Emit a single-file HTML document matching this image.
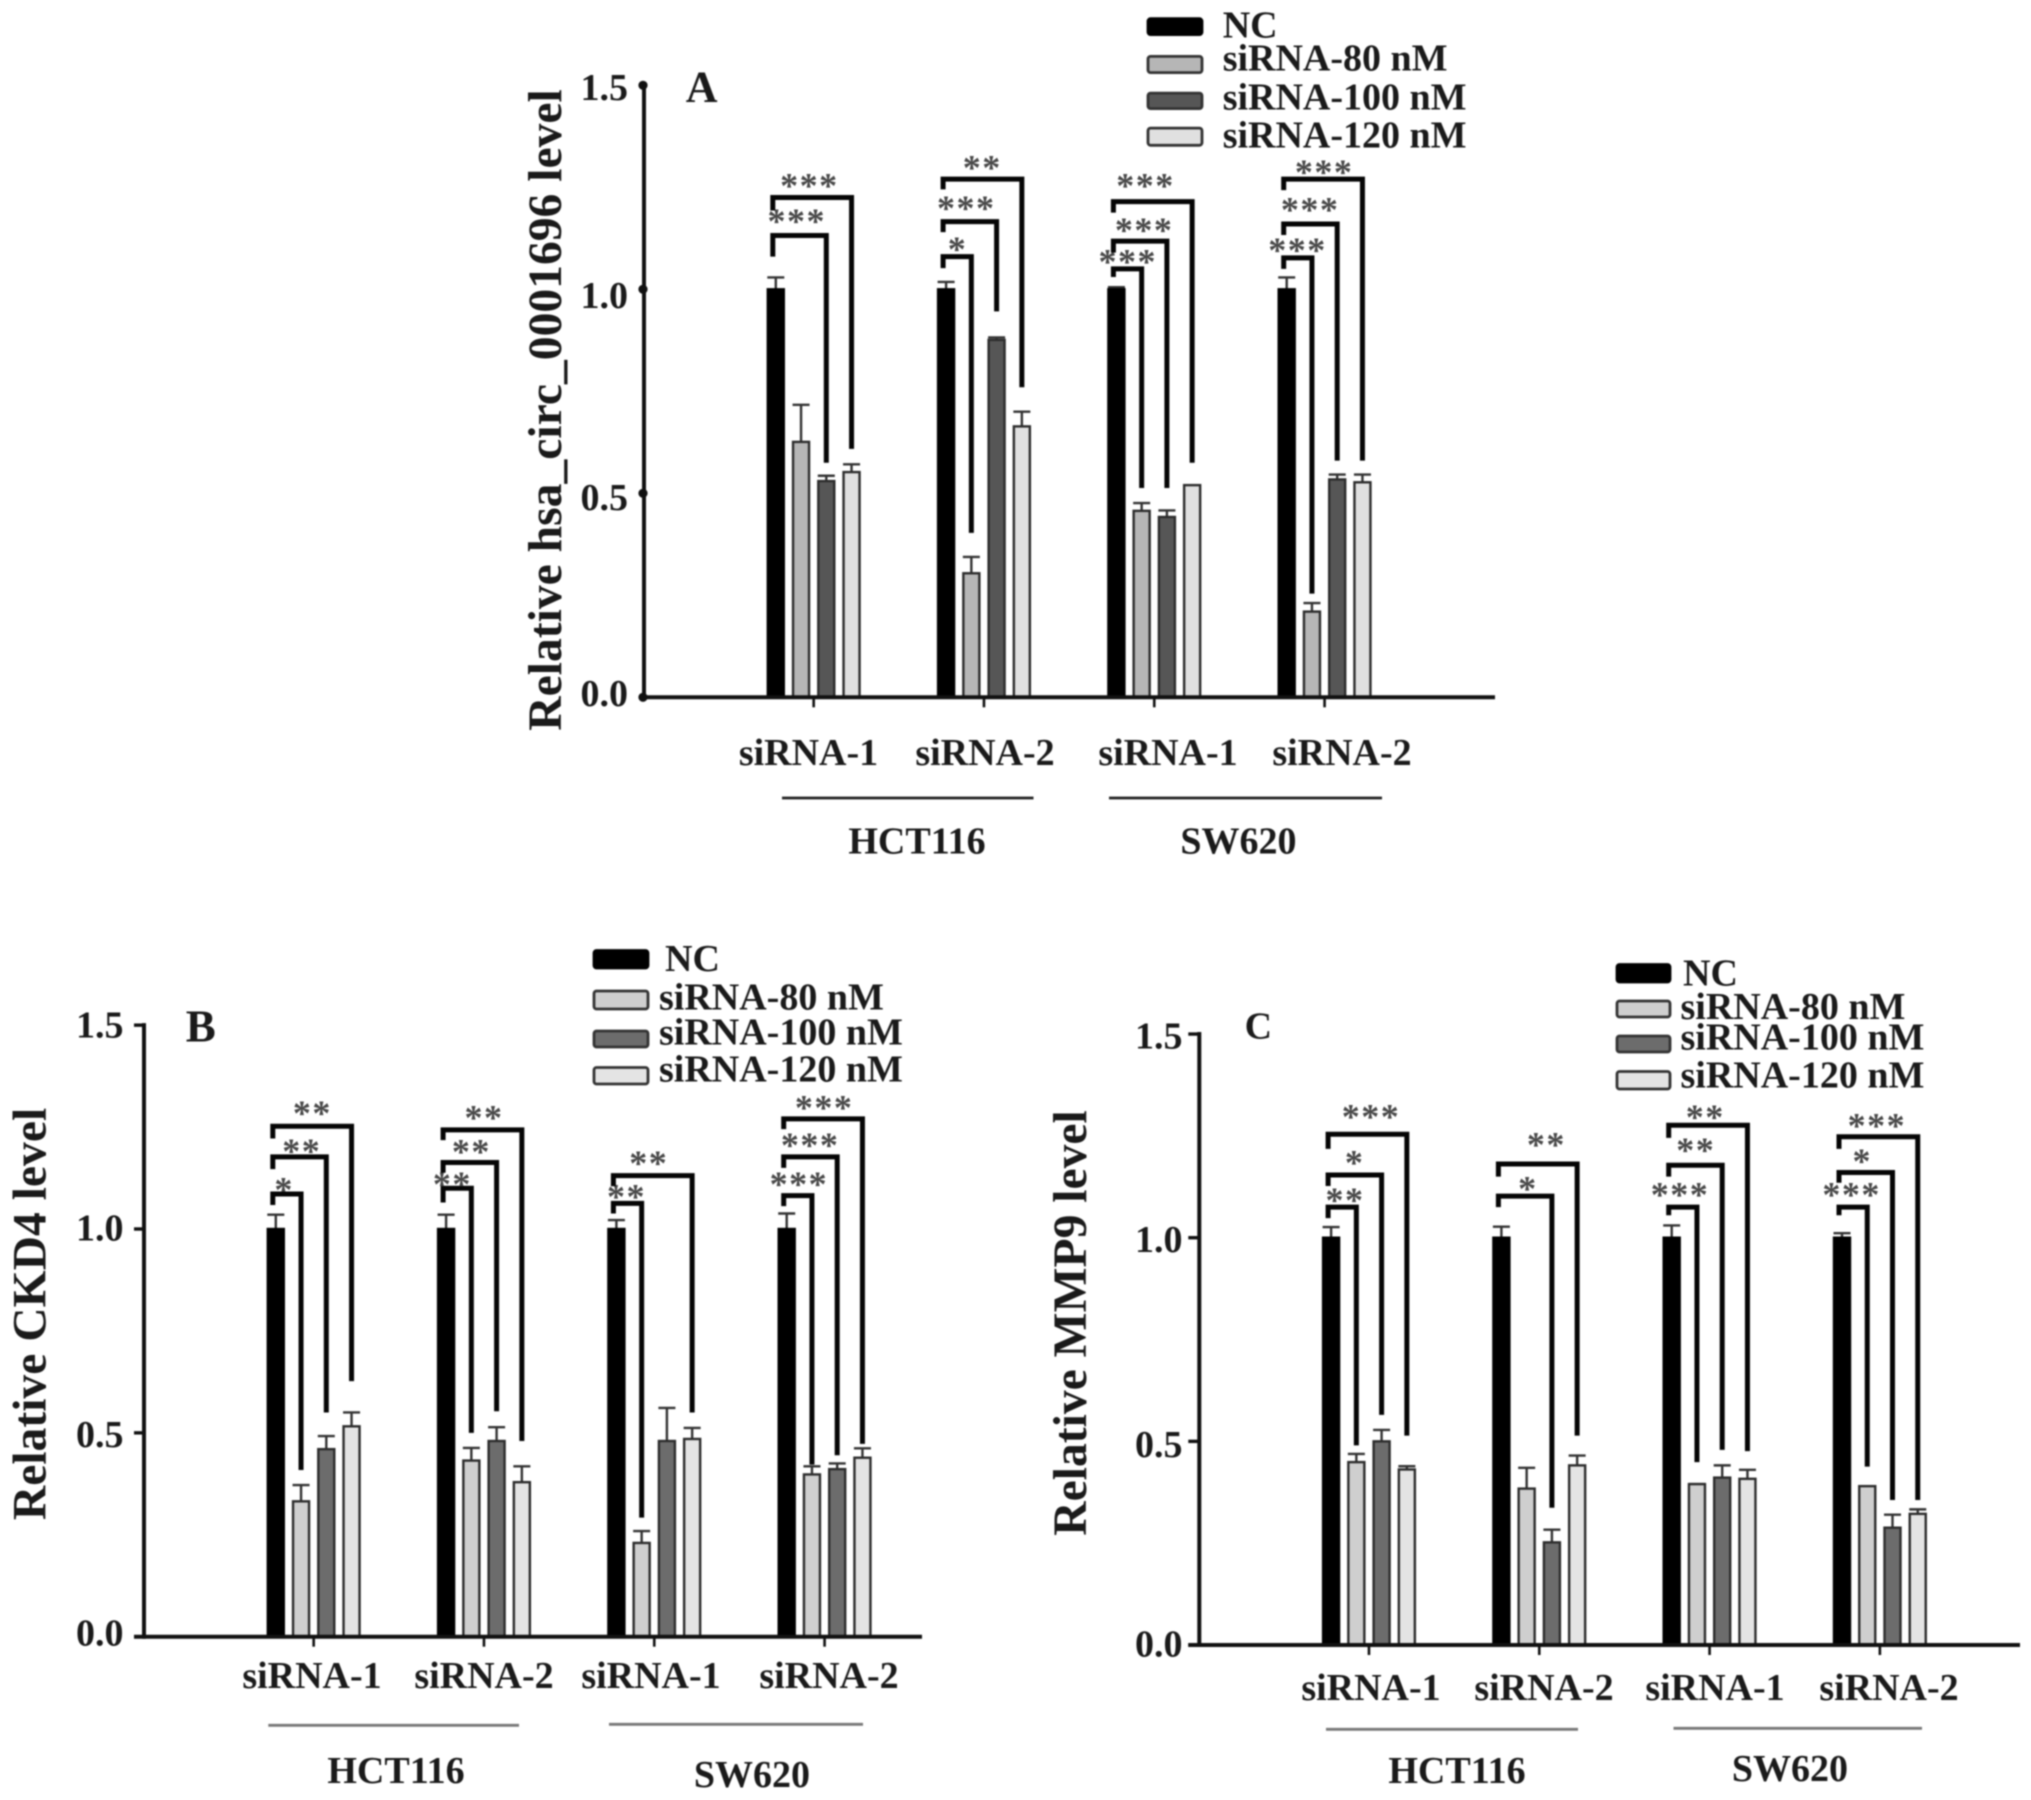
<!DOCTYPE html>
<html lang="en">
<head>
<meta charset="utf-8">
<title>Relative expression levels after siRNA knockdown</title>
<style>
html,body{margin:0;padding:0;background:#fff;width:2031px;height:1800px;overflow:hidden}
#figure{display:block;filter:blur(0.7px)}
text{font-family:"Liberation Serif",serif;font-weight:700;fill:#1a1a1a}
</style>
</head>
<body>
<svg id="figure" xmlns="http://www.w3.org/2000/svg" width="2031" height="1800" viewBox="0 0 2031 1800"></svg>
<script>
// ---- shared chart data ----
const siRnaLabels = ['siRNA-1', 'siRNA-2', 'siRNA-1', 'siRNA-2'];
const cellLineLabels = ['HCT116', 'SW620'];
const seriesNames = ['NC', 'siRNA-80 nM', 'siRNA-100 nM', 'siRNA-120 nM'];
const tickValues = [0, 0.5, 1, 1.5];
const tickLabels = ['0.0', '0.5', '1.0', '1.5'];

// ---- panel A ----
const meansA = [
  [1.0, 0.626, 0.53, 0.552],
  [1.0, 0.304, 0.876, 0.664],
  [1.0, 0.457, 0.442, 0.52],
  [1.0, 0.21, 0.534, 0.527]
];
const errorTopsA = [
  [1.029, 0.717, 0.543, 0.571],
  [1.018, 0.344, 0.882, 0.70],
  [1.005, 0.476, 0.458, 0.52],
  [1.029, 0.231, 0.546, 0.546]
];
// group, target bar, top value, left end value, right end value, stars, star position (bar units), star value
const bracketsA = [
  [0, 2, 1.132, 1.08, 0.575, '***', 0.83, 1.18],
  [0, 3, 1.225, 1.193, 0.609, '***', 1.33, 1.267],
  [1, 1, 1.08, 1.052, 0.403, '*', 0.45, 1.111],
  [1, 2, 1.166, 1.14, 0.946, '***', 0.8, 1.211],
  [1, 3, 1.27, 1.245, 0.76, '**', 1.43, 1.311],
  [2, 1, 1.05, 1.03, 0.513, '***', 0.45, 1.08],
  [2, 2, 1.118, 1.09, 0.513, '***', 1.1, 1.157],
  [2, 3, 1.215, 1.188, 0.575, '***', 1.15, 1.267],
  [3, 1, 1.077, 1.05, 0.254, '***', 0.43, 1.108],
  [3, 2, 1.16, 1.133, 0.58, '***', 0.93, 1.208],
  [3, 3, 1.27, 1.243, 0.58, '***', 1.48, 1.3]
];

// ---- panel B ----
const meansB = [
  [1.0, 0.332, 0.46, 0.516],
  [1.0, 0.432, 0.48, 0.379],
  [1.0, 0.23, 0.48, 0.485],
  [1.0, 0.398, 0.411, 0.439]
];
const errorTopsB = [
  [1.035, 0.372, 0.492, 0.55],
  [1.035, 0.463, 0.514, 0.418],
  [1.022, 0.259, 0.561, 0.512],
  [1.038, 0.418, 0.425, 0.462]
];
const bracketsB = [
  [0, 1, 1.086, 1.059, 0.409, '*', 0.33, 1.109],
  [0, 2, 1.177, 1.147, 0.55, '**', 1.03, 1.204],
  [0, 3, 1.252, 1.222, 0.627, '**', 1.45, 1.297],
  [1, 1, 1.1, 1.065, 0.5, '**', 0.25, 1.123],
  [1, 2, 1.163, 1.138, 0.553, '**', 1, 1.202],
  [1, 3, 1.243, 1.218, 0.48, '**', 1.5, 1.286],
  [2, 1, 1.063, 1.038, 0.292, '**', 0.4, 1.092],
  [2, 3, 1.131, 1.105, 0.55, '**', 1.28, 1.174],
  [3, 1, 1.082, 1.056, 0.422, '***', 0.48, 1.123],
  [3, 2, 1.177, 1.15, 0.445, '***', 0.93, 1.218],
  [3, 3, 1.27, 1.245, 0.473, '***', 1.48, 1.31]
];

// ---- panel C ----
const meansC = [
  [1.0, 0.449, 0.5, 0.431],
  [1.0, 0.384, 0.252, 0.441],
  [1.0, 0.395, 0.411, 0.408],
  [1.0, 0.39, 0.288, 0.322]
];
const errorTopsC = [
  [1.026, 0.469, 0.528, 0.439],
  [1.027, 0.435, 0.283, 0.465],
  [1.03, 0.395, 0.441, 0.43],
  [1.011, 0.39, 0.32, 0.333]
];
const bracketsC = [
  [0, 1, 1.075, 1.048, 0.49, '**', 0.55, 1.105],
  [0, 2, 1.154, 1.127, 0.565, '*', 0.93, 1.197],
  [0, 3, 1.254, 1.218, 0.514, '***', 1.58, 1.31],
  [1, 2, 1.102, 1.075, 0.337, '*', 1.05, 1.133],
  [1, 3, 1.181, 1.15, 0.514, '**', 1.78, 1.241],
  [2, 1, 1.075, 1.055, 0.449, '***', 0.33, 1.118],
  [2, 2, 1.178, 1.15, 0.479, '**', 0.95, 1.227],
  [2, 3, 1.276, 1.245, 0.476, '**', 1.33, 1.309],
  [3, 1, 1.075, 1.055, 0.438, '***', 0.38, 1.118],
  [3, 2, 1.16, 1.135, 0.356, '*', 0.8, 1.2],
  [3, 3, 1.248, 1.218, 0.356, '***', 1.38, 1.288]
];

const NS = 'http://www.w3.org/2000/svg';
const root = document.getElementById('figure');
const BAR_W = 16;
const BAR_STEP = 25.25;
const GROUP_STEP = 170.3;

function make(parent, tag, attrs, content) {
  const el = document.createElementNS(NS, tag);
  for (const k in attrs) el.setAttribute(k, attrs[k]);
  if (content !== undefined) el.textContent = content;
  parent.appendChild(el);
  return el;
}

function drawPanel(p) {
  const y = v => p.y0 - v * p.unit;
  const barLeft = (g, i) => p.axisX + 123.8 + g * GROUP_STEP + i * BAR_STEP;
  const barCenter = (g, i) => barLeft(g, i) + BAR_W / 2;

  const panel = make(root, 'g', {});
  
  

  // bars and error bars
  p.means.forEach((row, g) => {
    row.forEach((v, i) => {
      const cx = barCenter(g, i);
      const top = y(p.errors[g][i]);
      const err = make(panel, 'path', {
        d: 'M' + cx + ' ' + y(v) + 'V' + top + 'M' + (cx - 8.5) + ' ' + top + 'H' + (cx + 8.5),
        stroke: '#333', 'stroke-width': 2.4, fill: 'none'
      });
      
      
      const bar = make(panel, 'rect', {
        x: barLeft(g, i), y: y(v), width: BAR_W, height: y(0) - y(v),
        fill: p.colors[i], stroke: i === 0 ? '#000' : '#2c2c2c', 'stroke-width': 2.4
      });
      
      
    });
  });

  // significance brackets
  p.brackets.forEach(b => {
    const left = barCenter(b[0], 0) - 3;
    const right = barCenter(b[0], b[1]);
    const br = make(panel, 'path', {
      d: 'M' + left + ' ' + y(b[3]) + 'V' + y(b[2]) + 'H' + right + 'V' + y(b[4]),
      stroke: '#050505', 'stroke-width': 5, fill: 'none'
    });
    
    
    const st = make(panel, 'text', {
      x: barCenter(b[0], 0) + b[6] * BAR_STEP, y: y(b[7]) + 17,
      'text-anchor': 'middle', 'font-size': 36, 'letter-spacing': 1.5, style: 'fill:#484848'
    }, b[5]);
    
    
  });

  // axes
  const yAxis = make(panel, 'line', { x1: p.axisX, x2: p.axisX, y1: y(1.5) - 2, y2: y(0) + 2, stroke: '#111', 'stroke-width': 4 });
  
  
  const xAxis = make(panel, 'line', { x1: p.axisX - p.tickLen, x2: p.axisEnd, y1: y(0), y2: y(0), stroke: '#111', 'stroke-width': 4 });
  
  

  tickValues.forEach((v, i) => {
    let t;
    if (p.dotTicks) {
      t = make(panel, 'circle', { cx: p.axisX - 1, cy: y(v), r: 4.6, fill: '#111' });
    } else {
      t = make(panel, 'line', { x1: p.axisX - p.tickLen, x2: p.axisX, y1: y(v), y2: y(v), stroke: '#111', 'stroke-width': 3.4 });
    }
    
    
    const l = make(panel, 'text', { x: p.tickRight, y: y(v) + 12.5 + p.tickDy[i], 'text-anchor': 'end', 'font-size': 38 }, tickLabels[i]);
    
    
  });

  siRnaLabels.forEach((s, g) => {
    const cx = (barCenter(g, 0) + barCenter(g, 3)) / 2;
    const t = make(panel, 'line', { x1: cx, x2: cx, y1: y(0), y2: y(0) + 10, stroke: '#111', 'stroke-width': 2.6 });
    
    
    const l = make(panel, 'text', { x: p.catX[g], y: p.catY, 'text-anchor': 'middle', 'font-size': 38 }, s);
    
    
  });

  // cell-line grouping
  cellLineLabels.forEach((c, i) => {
    const u = make(panel, 'line', { x1: p.under[i][0], x2: p.under[i][1], y1: p.under[i][2], y2: p.under[i][2], stroke: p.underColor, 'stroke-width': 2.8 });
    
    
    const l = make(panel, 'text', { x: p.cell[i][0], y: p.cell[i][1], 'text-anchor': 'middle', 'font-size': 38 }, c);
    
    
  });

  // y-axis title
  const title = make(panel, 'text', {
    transform: 'translate(' + p.title[0] + ',' + p.title[1] + ') rotate(-90)',
    'text-anchor': 'middle', 'font-size': 47.6
  }, p.title[2]);
  
  

  // panel letter
  const letter = make(panel, 'text', { x: p.letter[0], y: p.letter[1], 'text-anchor': 'middle', 'font-size': p.letter[3] }, p.letter[2]);
  
  

  // legend
  seriesNames.forEach((name, i) => {
    const r = p.legendRows[i];
    const sw = make(panel, 'rect', {
      x: p.legendX, y: r[0], width: p.legendW, height: r[1] - r[0], rx: 2.5,
      fill: p.colors[i], stroke: i === 0 ? '#000' : '#333', 'stroke-width': 2.8
    });
    
    
    const lt = make(panel, 'text', { x: r[3], y: r[2] + 12, 'font-size': 38 }, name);
    
    
  });
}

drawPanel({
  id: 'a', means: meansA, errors: errorTopsA, brackets: bracketsA,
  colors: ['#000000', '#b6b6b6', '#565656', '#e0e0e0'],
  axisX: 644, axisEnd: 1495, y0: 697.3, unit: 408, tickRight: 628, tickLen: 0, dotTicks: true,
  tickDy: [-4, 4, 6, 2],
  catX: [808.5, 985, 1168, 1342], catY: 765,
  under: [[782, 1033.5, 798], [1109, 1382, 798]], underColor: '#222',
  cell: [[917, 853.5], [1238.5, 853.5]],
  title: [561, 410, 'Relative hsa_circ_0001696 level'],
  letter: [701.7, 101.7, 'A', 44],
  legendX: 1148, legendW: 54,
  legendRows: [[18.7, 34.6, 25.3, 1222.7], [56.4, 72.6, 58.7, 1222.7], [93.1, 108.6, 97.3, 1222.7], [128.1, 145.3, 135.7, 1222.7]]
});

drawPanel({
  id: 'b', means: meansB, errors: errorTopsB, brackets: bracketsB,
  colors: ['#000000', '#cfcfcf', '#6c6c6c', '#e4e4e4'],
  axisX: 144, axisEnd: 922, y0: 1636.7, unit: 407.7, tickRight: 123.5, tickLen: 10, dotTicks: false,
  tickDy: [-3.7, 1.6, -1, 0],
  catX: [312, 484, 651, 829], catY: 1688,
  under: [[268.3, 519, 1725.3], [609, 863, 1724.3]], underColor: '#777',
  cell: [[396, 1783], [752, 1787]],
  title: [45.5, 1314, 'Relative CKD4 level'],
  letter: [200.7, 1041.7, 'B', 45],
  legendX: 594, legendW: 54,
  legendRows: [[950.5, 968, 959, 665], [991, 1009, 997.5, 659], [1031, 1047, 1032.5, 659], [1067.5, 1084, 1069.5, 659]]
});

drawPanel({
  id: 'c', means: meansC, errors: errorTopsC, brackets: bracketsC,
  colors: ['#000000', '#cfcfcf', '#6c6c6c', '#e4e4e4'],
  axisX: 1199.3, axisEnd: 2020, y0: 1645, unit: 407.3, tickRight: 1182.5, tickLen: 11, dotTicks: false,
  tickDy: [-1, 3, 1.6, 1.7],
  catX: [1371, 1544, 1715, 1889], catY: 1700,
  under: [[1326, 1578, 1729.3], [1673.5, 1922, 1728.3]], underColor: '#777',
  cell: [[1457, 1783], [1790, 1781]],
  title: [1086, 1323, 'Relative MMP9 level'],
  letter: [1258.3, 1038.3, 'C', 38],
  legendX: 1617, legendW: 53,
  legendRows: [[964.5, 982, 973.5, 1683], [1001, 1017, 1007, 1680.5], [1036, 1052, 1037.5, 1680.5], [1071.5, 1089, 1075.5, 1680.5]]
});
</script>
</body>
</html>
